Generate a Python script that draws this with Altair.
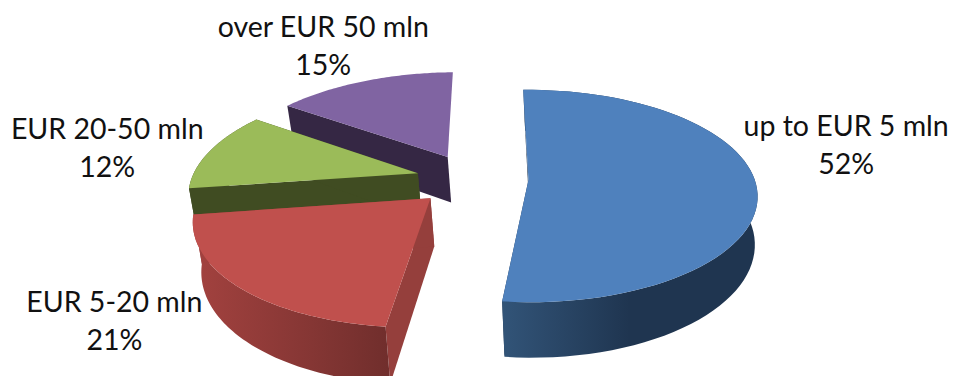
import math
import altair as alt
import pandas as pd

# Portfolio shares by size bracket, clockwise from the top of the pie
categories = ["up to EUR 5 mln", "EUR 5-20 mln", "EUR 20-50 mln", "over EUR 50 mln"]
shares = [52, 21, 12, 15]
percent_labels = ["52%", "21%", "12%", "15%"]

top_colors = ["#4f81bd", "#c0504d", "#9bbb59", "#8064a2"]
radial_colors = ["#1f3550", "#953f3c", "#404c22", "#352744"]
rim_stops = [
    ("#325478", "#1f3550", "#1f3550"),
    ("#a3423f", "#8a3836", "#702e2c"),
    ("#404c22", "#404c22", "#404c22"),
    ("#352744", "#352744", "#352744"),
]
label_offsets = [(90, -57), (-124, 16), (-103, -21), (-41, -53)]

# Camera model of the tilted disc
CENTER_X, CENTER_Y = 472, 179
RADIUS_X, RADIUS_Y = 226, 103.5
PERSPECTIVE = 0.15
VANISH_X = 520
EXPLODE = 0.25
START_ANGLE = -1.2
THICKNESS = 47
TAPER = 0.02
TAPER_X = 620


def project(angle, radius, mid, depth=0.0):
    """Screen position of a point on an exploded slice; depth 1 is the underside."""
    a = EXPLODE * math.sin(mid) + radius * math.sin(angle)
    b = -EXPLODE * math.cos(mid) - radius * math.cos(angle)
    s = 1 / (1 - PERSPECTIVE * b)
    x = VANISH_X + (CENTER_X + a * RADIUS_X - VANISH_X) * s
    y = CENTER_Y + b * RADIUS_Y * s + depth * THICKNESS * s
    x = x + (TAPER_X - x) * TAPER * depth
    return x, y


def arc(start, end, mid, depth=0.0, steps=70):
    return [
        project(start + (end - start) * i / steps, 1, mid, depth)
        for i in range(steps + 1)
    ]


def polygon(points, fill):
    frame = pd.DataFrame(
        {"x": [p[0] for p in points], "y": [p[1] for p in points], "n": range(len(points))}
    )
    return (
        alt.Chart(frame)
        .mark_line(fill=fill, stroke=None, strokeWidth=0, interpolate="linear")
        .encode(
            x=alt.X("x:Q", scale=alt.Scale(domain=[0, 956]), axis=None),
            y=alt.Y("y:Q", scale=alt.Scale(domain=[376, 0]), axis=None),
            order="n:Q",
        )
    )


# Slice spans in radians
bounds = []
angle = START_ANGLE
for share in shares:
    bounds.append((math.radians(angle), math.radians(angle + share * 3.6)))
    angle += share * 3.6

layers = []
text_rows = []
# Painted back to front: purple, green, red, blue
for i in [3, 2, 1, 0]:
    start, end = bounds[i]
    mid = (start + end) / 2
    apex = project(0, 0, mid)
    apex_low = project(0, 0, mid, 1)
    top_arc = arc(start, end, mid)
    low_arc = arc(start, end, mid, 1)
    back_slice = i == 3  # lies wholly behind the disc centre, its rim faces away
    edges = [(top_arc[0], low_arc[0])]
    if not back_slice:
        edges.append((top_arc[-1], low_arc[-1]))
    for edge_top, edge_low in edges:
        layers.append(polygon([apex, edge_top, edge_low, apex_low], radial_colors[i]))
    if not back_slice:
        c0, c1, c2 = rim_stops[i]
        rim = alt.Gradient(
            gradient="linear", x1=0, x2=1, y1=0, y2=0,
            stops=[
                alt.GradientStop(color=c0, offset=0),
                alt.GradientStop(color=c1, offset=0.5),
                alt.GradientStop(color=c2, offset=1),
            ],
        )
        layers.append(polygon(top_arc + low_arc[::-1], rim))
    layers.append(polygon([apex] + top_arc, top_colors[i]))

    anchor = project(mid, 1, mid)
    dx, dy = label_offsets[i]
    text_rows.append({"x": anchor[0] + dx, "y": anchor[1] + dy, "t": categories[i]})
    text_rows.append({"x": anchor[0] + dx, "y": anchor[1] + dy + 38, "t": percent_labels[i]})

labels = (
    alt.Chart(pd.DataFrame(text_rows))
    .mark_text(font="Lato", fontSize=28.5, color="#111111", align="center", baseline="middle")
    .encode(
        x=alt.X("x:Q", scale=alt.Scale(domain=[0, 956]), axis=None),
        y=alt.Y("y:Q", scale=alt.Scale(domain=[376, 0]), axis=None),
        text="t:N",
    )
)

chart = (
    alt.layer(*layers, labels)
    .properties(width=956, height=376, padding=0, autosize=alt.AutoSizeParams(type="none"))
    .configure_view(stroke=None)
)

chart.save("out.html", embed_options={"renderer": "svg", "actions": False})
